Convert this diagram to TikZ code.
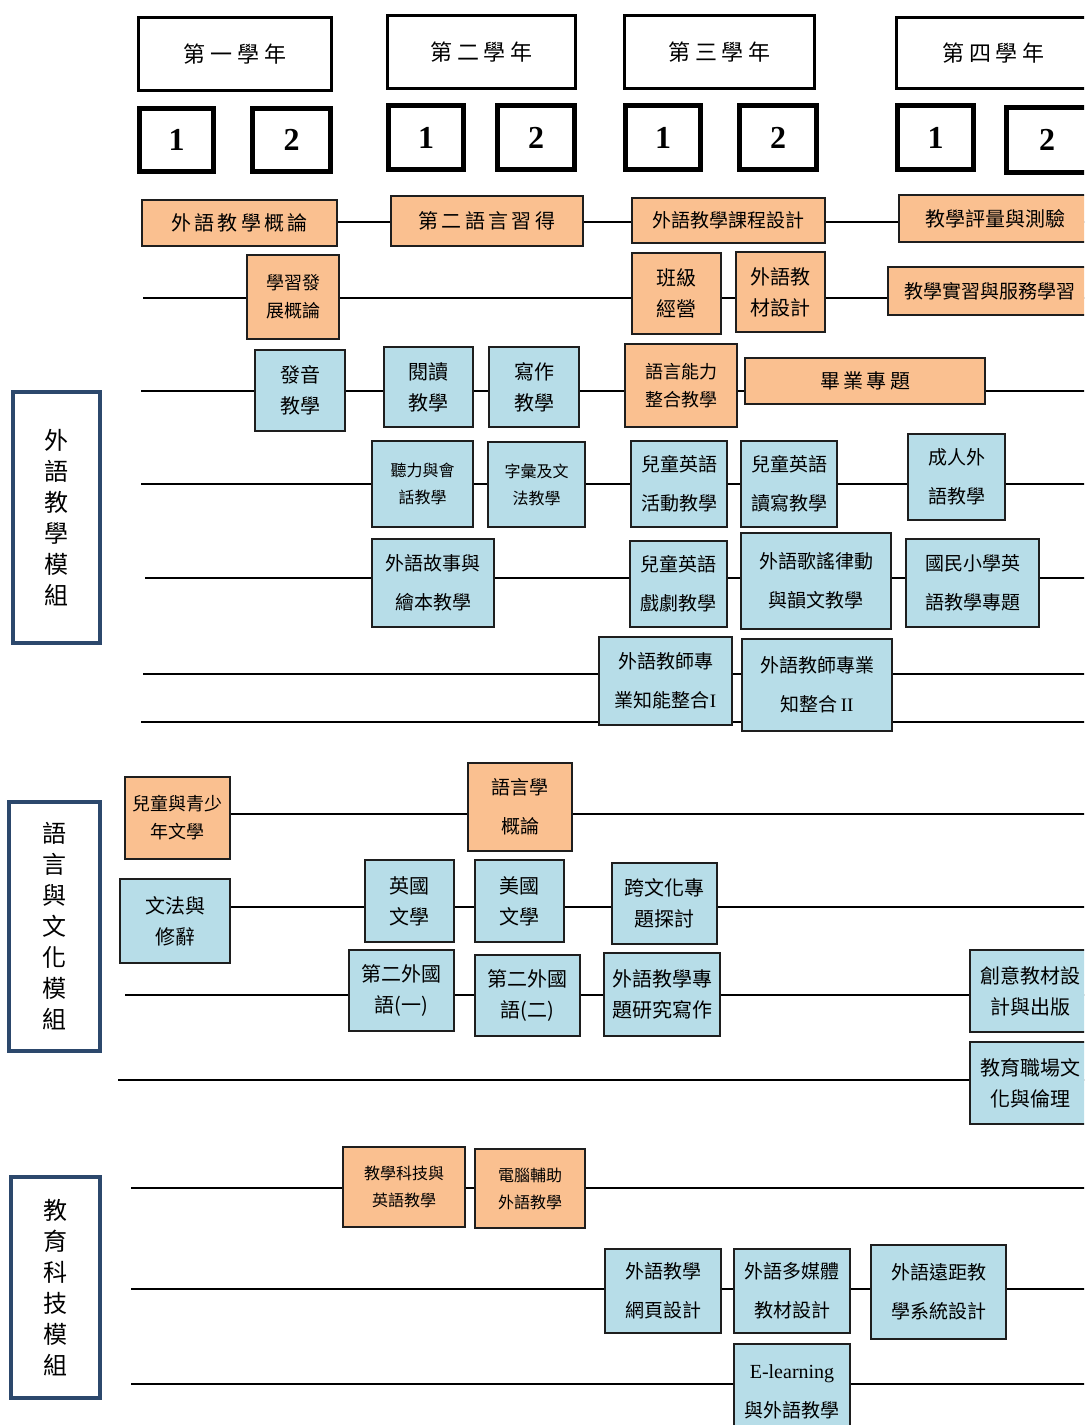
\documentclass[tikz,border=0pt]{standalone}
\usepackage{fontspec}
\setmainfont{Noto Sans CJK TC}
\newfontfamily\tms{Liberation Serif}
\usetikzlibrary{positioning}
\definecolor{corefill}{RGB}{250,192,144}
\definecolor{electfill}{RGB}{183,221,232}
\definecolor{modline}{RGB}{44,72,108}
\definecolor{boxline}{RGB}{30,30,30}
\tikzset{
    %Define style for the year and term headers
    yearbox/.style={
           rectangle,
           draw=black, line width=1.6pt,
           font=\fontsize{11}{13}\selectfont,
           inner sep=0pt,
           },
    termbox/.style={
           rectangle,
           draw=black, line width=2.5pt,
           font=\tms\bfseries\fontsize{16}{20}\selectfont,
           inner sep=0pt,
           },
    %Define style for course boxes
    course/.style={
           rectangle,
           draw=boxline, line width=1pt,
           align=center,
           inner sep=0pt,
           font=\fontsize{10}{15.5}\selectfont,
           },
    core/.style={course, fill=corefill},
    elect/.style={course, fill=electfill},
    loosetxt/.style={font=\fontsize{9.5}{19.5}\selectfont},
    smalltxt/.style={font=\fontsize{9}{14}\selectfont},
    tinytxt/.style={font=\fontsize{8}{13.5}\selectfont},
    %Define style for module labels
    modbox/.style={
           rectangle,
           draw=modline, line width=2pt,
           fill=white,
           align=center,
           inner sep=0pt,
           font=\fontsize{12}{15.5}\selectfont,
           },
    sz/.style 2 args={minimum width=#1*0.5pt, minimum height=#2*0.5pt},
    % Define row line style
    rowline/.style={draw=black, line width=1.2pt},
}
\begin{document}
\begin{tikzpicture}[x=0.5pt,y=-0.5pt]
\useasboundingbox (0,0) rectangle (1084,1425);
\clip (0,0) rectangle (1084,1425);
 %row lines
\foreach \n/\xs/\y in {1/300/222, 2/143/298, 3/141/391, 4/141/484, 5/145/578,
    6/143/674, 7/141/722, 8/200/814, 9/200/907, 10/125/995, 11/118/1080,
    12/131/1188, 13/131/1289, 14/131/1384}
  {\coordinate (s\n) at (\xs,\y);
   \coordinate (e\n) at (1090,\y);}
\foreach \n in {1,...,14}
  \draw[rowline] (s\n) -- (e\n);
 %years
\node[yearbox, sz={193}{73}] (yr1) at (235,54) {第 一 學 年};
\node[yearbox, sz={188}{73}] (yr2) at (481.5,52) {第 二 學 年};
\node[yearbox, sz={190}{73}] (yr3) at (719.5,52) {第 三 學 年};
\node[yearbox, sz={194}{71}] (yr4) at (993.5,53) {第 四 學 年};
 %terms
\node[termbox, sz={74}{63}] (t11) at (176.5,140) {1};
\node[termbox, sz={78}{63}] (t12) at (291.5,140) {2};
\node[termbox, sz={75}{64}] (t21) at (426,137.5) {1};
\node[termbox, sz={77}{64}] (t22) at (536,137.5) {2};
\node[termbox, sz={75}{64}] (t31) at (663,137.5) {1};
\node[termbox, sz={77}{64}] (t32) at (778,137.5) {2};
\node[termbox, sz={76}{64}] (t41) at (935.5,137.5) {1};
\node[termbox, sz={81}{65}] (t42) at (1047,140) {2};
 %modules
\node[modbox, sz={87}{251}] (mod1) at (56.5,517.5) {外\\語\\教\\學\\模\\組};
\node[modbox, sz={91}{249}] (mod2) at (54.5,926.5) {語\\言\\與\\文\\化\\模\\組};
\node[modbox, sz={89}{221}] (mod3) at (55.5,1287.5) {教\\育\\科\\技\\模\\組};
 %foreign language teaching module
\node[core, sz={195}{46}] (a1) at (239.5,223) {外\,語\,教\,學\,概\,論};
\node[core, sz={192}{50}] (a2) at (487,221) {第\,二\,語\,言\,習\,得};
\node[core, font=\fontsize{9.5}{12}\selectfont, sz={193}{45}] (a3) at (728.5,220.5) {外語教學課程設計};
\node[core, sz={192}{47}] (a4) at (995,218.5) {教學評量與測驗};
\node[core, smalltxt, sz={92}{84}] (b1) at (293,297) {學習發\\展概論};
\node[core, sz={89}{81}] (b2) at (676.5,293.5) {班級\\經營};
\node[core, sz={89}{80}] (b3) at (780.5,292) {外語教\\材設計};
\node[core, font=\fontsize{9.5}{12}\selectfont, sz={203}{48}] (b4) at (989.5,291) {教學實習與服務學習};
\node[elect, sz={90}{81}] (c1) at (300,390.5) {發音\\教學};
\node[elect, sz={89}{80}] (c2) at (428.5,387) {閱讀\\教學};
\node[elect, sz={90}{80}] (c3) at (534,387) {寫作\\教學};
\node[core, smalltxt, sz={112}{83}] (c4) at (681,385.5) {語言能力\\整合教學};
\node[core, sz={240}{46}] (c5) at (865,381) {畢\,業\,專\,題};
\node[elect, tinytxt, sz={101}{86}] (d1) at (422.5,484) {聽力與會\\話教學};
\node[elect, tinytxt, sz={97}{85}] (d2) at (536.5,484.5) {字彙及文\\法教學};
\node[elect, loosetxt, sz={96}{86}] (d3) at (679,484) {兒童英語\\活動教學};
\node[elect, loosetxt, sz={96}{86}] (d4) at (789,484) {兒童英語\\讀寫教學};
\node[elect, loosetxt, sz={97}{86}] (d5) at (956.5,477) {成人外\\語教學};
\node[elect, loosetxt, sz={122}{88}] (e1) at (433,583) {外語故事與\\繪本教學};
\node[elect, loosetxt, sz={97}{86}] (e2) at (678.5,584) {兒童英語\\戲劇教學};
\node[elect, loosetxt, sz={150}{96}] (e3) at (816,581) {外語歌謠律動\\與韻文教學};
\node[elect, loosetxt, sz={133}{88}] (e4) at (972.5,583) {國民小學英\\語教學專題};
\node[elect, loosetxt, sz={133}{88}] (f1) at (665.5,681) {外語教師專\\業知能整合{\tms I}};
\node[elect, loosetxt, sz={150}{92}] (f2) at (817,685) {外語教師專業\\知整合\,{\tms II}};
 %language and culture module
\node[core, smalltxt, sz={105}{82}] (g1) at (177.5,818) {兒童與青少\\年文學};
\node[core, loosetxt, sz={104}{88}] (g2) at (520,807) {語言學\\概論};
\node[elect, sz={110}{84}] (h1) at (175,921) {文法與\\修辭};
\node[elect, sz={89}{82}] (h2) at (409.5,901) {英國\\文學};
\node[elect, sz={89}{82}] (h3) at (519.5,901) {美國\\文學};
\node[elect, sz={105}{81}] (h4) at (664.5,903.5) {跨文化專\\題探討};
\node[elect, sz={105}{81}] (i1) at (401.5,990.5) {第二外國\\語(一)};
\node[elect, sz={105}{81}] (i2) at (527.5,995.5) {第二外國\\語(二)};
\node[elect, sz={116}{83}] (i3) at (662,994.5) {外語教學專\\題研究寫作};
\node[elect, sz={121}{82}] (i4) at (1030.5,991) {創意教材設\\計與出版};
\node[elect, sz={121}{82}] (j1) at (1030.5,1083) {教育職場文\\化與倫理};
 %educational technology module
\node[core, tinytxt, sz={122}{80}] (k1) at (404,1187) {教學科技與\\英語教學};
\node[core, tinytxt, sz={110}{79}] (k2) at (530,1188.5) {電腦輔助\\外語教學};
\node[elect, loosetxt, sz={116}{84}] (l1) at (663,1291) {外語教學\\網頁設計};
\node[elect, loosetxt, sz={116}{84}] (l2) at (792,1291) {外語多媒體\\教材設計};
\node[elect, loosetxt, sz={135}{94}] (l3) at (938.5,1292) {外語遠距教\\學系統設計};
\node[elect, loosetxt, sz={116}{95}] (m1) at (792,1391.5) {{\tms\fontsize{10}{19.5}\selectfont E-learning}\\與外語教學};
\end{tikzpicture}
\end{document}
